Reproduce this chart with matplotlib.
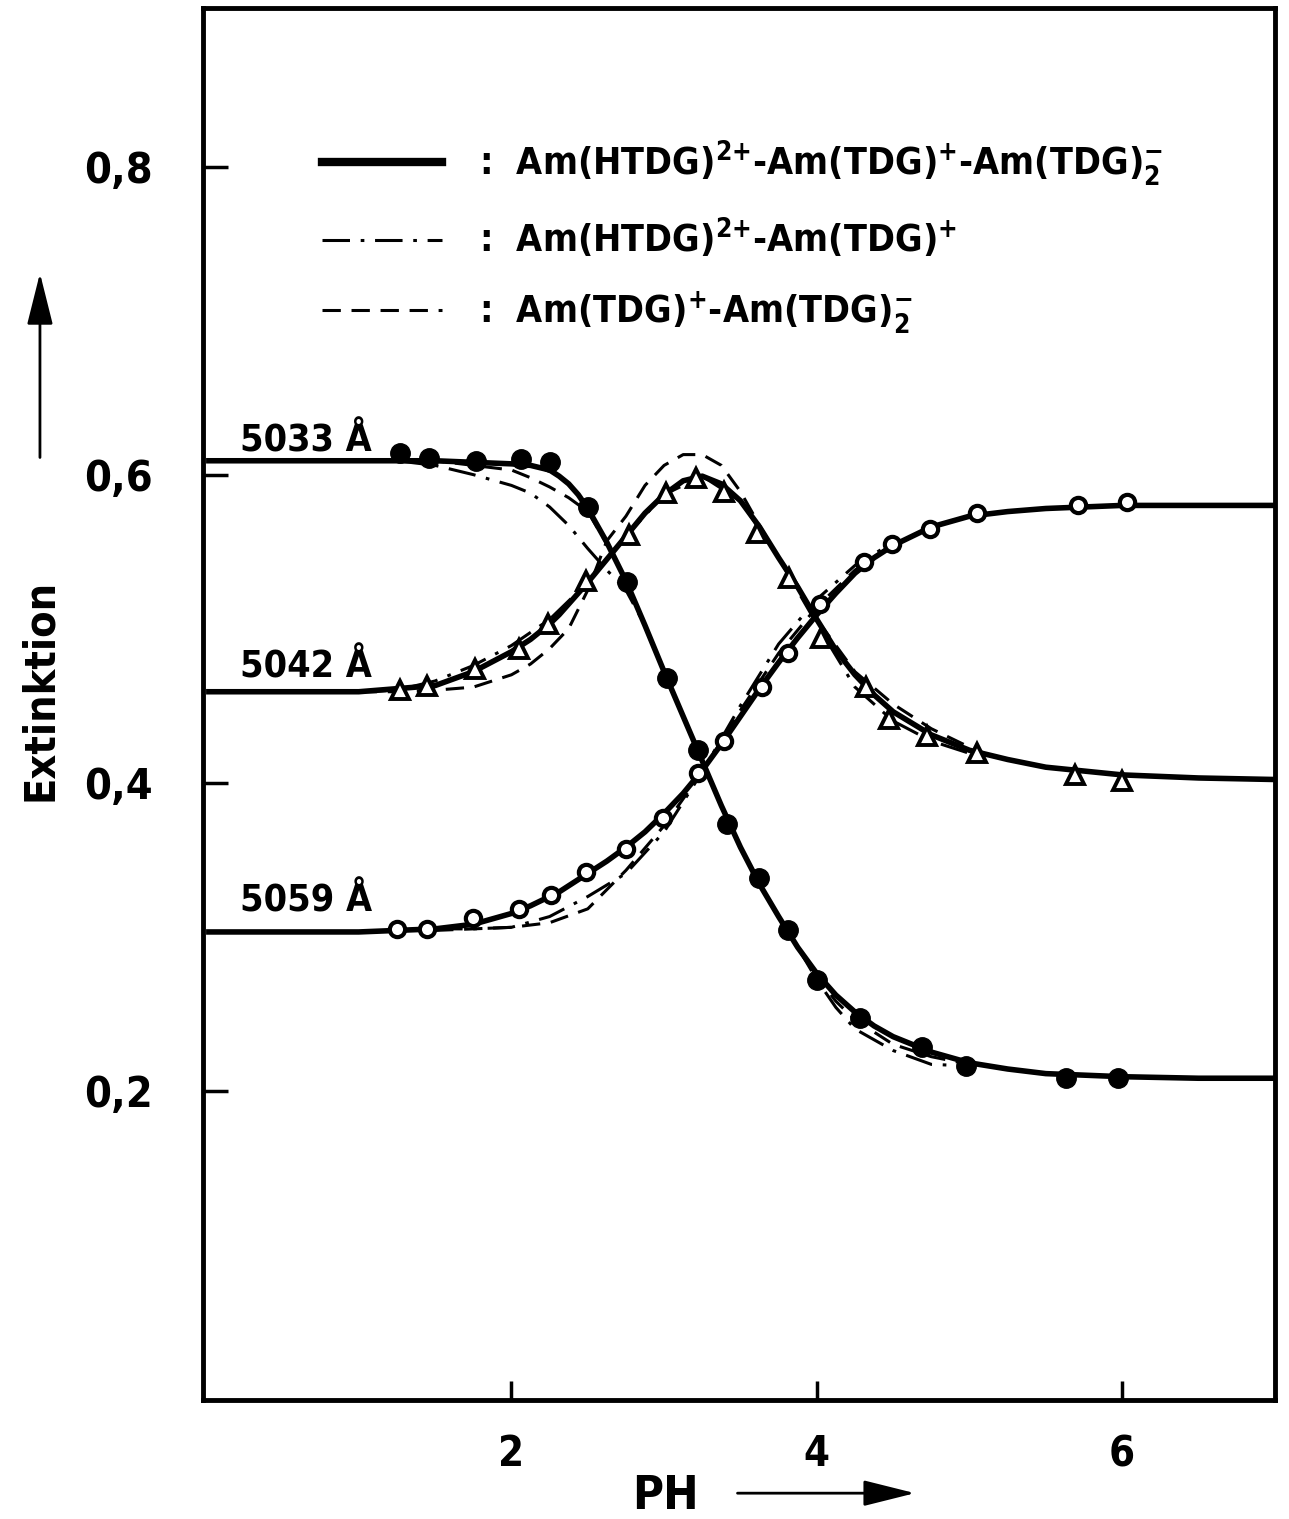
import matplotlib
matplotlib.use('Agg')
import matplotlib.pyplot as plt
from matplotlib.lines import Line2D
from matplotlib.patches import FancyArrowPatch

# measured points (pH, extinction)
ph_5033 = [1.27, 1.46, 1.77, 2.06, 2.25, 2.50, 2.76, 3.02, 3.22, 3.41, 3.62, 3.81, 4.00, 4.28, 4.69, 4.98, 5.63, 5.97]
ext_5033 = [0.614, 0.611, 0.609, 0.610, 0.608, 0.579, 0.530, 0.468, 0.421, 0.373, 0.338, 0.304, 0.272, 0.247, 0.228, 0.216, 0.208, 0.208]

ph_5042 = [1.27, 1.45, 1.76, 2.05, 2.24, 2.49, 2.77, 3.01, 3.21, 3.39, 3.61, 3.82, 4.03, 4.32, 4.47, 4.72, 5.05, 5.69, 6.00]
ext_5042 = [0.460, 0.463, 0.474, 0.487, 0.503, 0.531, 0.561, 0.588, 0.598, 0.589, 0.562, 0.533, 0.494, 0.462, 0.441, 0.430, 0.419, 0.405, 0.401]

ph_5059 = [1.25, 1.45, 1.75, 2.05, 2.26, 2.49, 2.75, 2.99, 3.22, 3.39, 3.64, 3.81, 4.02, 4.31, 4.49, 4.74, 5.05, 5.71, 6.03]
ext_5059 = [0.305, 0.305, 0.312, 0.318, 0.327, 0.342, 0.357, 0.377, 0.406, 0.427, 0.462, 0.484, 0.516, 0.543, 0.555, 0.565, 0.575, 0.580, 0.582]

# fitted curves: Am(HTDG)2+ - Am(TDG)+ - Am(TDG)2- (solid)
ph_fit = [0, 1.0, 1.5, 1.75, 2.0, 2.125, 2.25, 2.3125, 2.375, 2.4375, 2.5, 2.625, 2.75, 2.875, 3.0, 3.125, 3.25,
          3.375, 3.5, 3.625, 3.75, 3.875, 4.0, 4.125, 4.25, 4.375, 4.5, 4.75, 5.0, 5.25, 5.5, 6.0, 6.5, 7.0]
fit_5033 = [0.609, 0.609, 0.609, 0.608, 0.607, 0.606, 0.603, 0.599, 0.594, 0.587, 0.578, 0.556, 0.531, 0.502, 0.472, 0.443, 0.414,
            0.385, 0.358, 0.334, 0.313, 0.293, 0.276, 0.262, 0.251, 0.242, 0.235, 0.225, 0.218, 0.214, 0.211, 0.209, 0.208, 0.208]
fit_5042 = [0.459, 0.459, 0.463, 0.472, 0.485, 0.493, 0.503, 0.509, 0.516, 0.523, 0.530, 0.545, 0.560, 0.575, 0.587, 0.596, 0.599,
            0.594, 0.583, 0.566, 0.546, 0.527, 0.506, 0.486, 0.470, 0.457, 0.446, 0.431, 0.421, 0.415, 0.410, 0.405, 0.403, 0.402]
fit_5059 = [0.303, 0.303, 0.305, 0.308, 0.315, 0.320, 0.326, 0.329, 0.333, 0.337, 0.341, 0.349, 0.358, 0.368, 0.380, 0.393, 0.408,
            0.425, 0.443, 0.461, 0.478, 0.494, 0.509, 0.523, 0.536, 0.546, 0.554, 0.566, 0.573, 0.576, 0.578, 0.580, 0.580, 0.580]

# Am(HTDG)2+ - Am(TDG)+ (dash-dot)
ph_dd_5033 = [1.25, 1.5, 1.75, 2.0, 2.125, 2.25, 2.375, 2.5, 2.625, 2.75, 2.875]
dd_5033 = [0.609, 0.606, 0.600, 0.593, 0.588, 0.579, 0.567, 0.552, 0.538, 0.525, 0.502]
ph_dd_5033b = [3.875, 4.0, 4.125, 4.25, 4.5, 4.75, 5.0]
dd_5033b = [0.293, 0.272, 0.254, 0.240, 0.226, 0.217, 0.216]
ph_dd_5042 = [1.0, 1.25, 1.5, 1.75, 2.0, 2.25, 2.5, 2.75, 3.0, 3.25, 3.5, 3.75, 4.0, 4.25, 4.5, 4.75, 5.0]
dd_5042 = [0.459, 0.460, 0.466, 0.476, 0.489, 0.506, 0.530, 0.560, 0.587, 0.599, 0.583, 0.546, 0.503, 0.462, 0.440, 0.427, 0.419]
ph_dd_5059 = [1.5, 1.75, 2.0, 2.25, 2.5, 2.75, 3.0, 3.25, 3.5, 3.75, 4.0, 4.25, 4.5]
dd_5059 = [0.305, 0.305, 0.306, 0.313, 0.326, 0.341, 0.368, 0.407, 0.450, 0.490, 0.519, 0.541, 0.556]

# Am(TDG)+ - Am(TDG)2- (dashed)
ph_da_5033 = [1.25, 1.5, 1.75, 2.0, 2.125, 2.25, 2.375, 2.5, 2.625]
da_5033 = [0.609, 0.609, 0.606, 0.603, 0.598, 0.592, 0.585, 0.576, 0.555]
ph_da_5033b = [3.875, 4.0, 4.125, 4.25, 4.5, 4.75, 5.0]
da_5033b = [0.293, 0.274, 0.258, 0.246, 0.230, 0.222, 0.217]
ph_da_5042 = [1.0, 1.25, 1.5, 1.75, 2.0, 2.125, 2.25, 2.375, 2.5, 2.625, 2.75, 2.875, 3.0, 3.125, 3.25,
              3.375, 3.5, 3.625, 3.75, 3.875, 4.0, 4.25, 4.5, 4.75, 5.0]
da_5042 = [0.459, 0.459, 0.460, 0.462, 0.470, 0.477, 0.487, 0.500, 0.525, 0.557, 0.573, 0.593, 0.606, 0.613, 0.613,
           0.606, 0.589, 0.567, 0.546, 0.527, 0.506, 0.472, 0.451, 0.435, 0.423]
ph_da_5059 = [1.5, 1.75, 2.0, 2.25, 2.5, 2.75, 3.0, 3.25, 3.5, 3.75, 4.0, 4.25, 4.5]
da_5059 = [0.304, 0.305, 0.306, 0.309, 0.318, 0.343, 0.372, 0.407, 0.447, 0.484, 0.514, 0.538, 0.555]

wl_labels = ['5033 Å', '5042 Å', '5059 Å']
wl_label_pos = [(0.22, 0.615), (0.22, 0.468), (0.22, 0.316)]

legend_labels = [':  Am(HTDG)$^{2{+}}$-Am(TDG)$^{+}$-Am(TDG)$_{2}^{-}$',
                 ':  Am(HTDG)$^{2{+}}$-Am(TDG)$^{+}$',
                 ':  Am(TDG)$^{+}$-Am(TDG)$_{2}^{-}$']

yticks = [0.2, 0.4, 0.6, 0.8]
yticklabels = ['0,2', '0,4', '0,6', '0,8']
xticks = [2, 4, 6]
xticklabels = ['2', '4', '6']

plt.rcParams['font.family'] = ['DejaVu Sans']
plt.rcParams['font.stretch'] = 'condensed'
plt.rcParams['font.weight'] = 'bold'
plt.rcParams['mathtext.default'] = 'regular'
fs = 27

fig = plt.figure(figsize=(12.89, 15.19), dpi=100)
ax = fig.add_axes([0.1575, 0.0783, 0.8315, 0.9164])

ax.set_xlim(-0.02, 7.0)
ax.set_ylim(-0.001, 0.903)

lw_fit = 4.0
lw_alt = 2.2
dashdot = (0, (9, 3.5, 1.2, 3.5))
dashed = (0, (6, 3.5))

# alternative models
for px, py in [(ph_dd_5033, dd_5033), (ph_dd_5033b, dd_5033b), (ph_dd_5042, dd_5042), (ph_dd_5059, dd_5059)]:
    ax.plot(px, py, color='k', lw=lw_alt, ls=dashdot)
for px, py in [(ph_da_5033, da_5033), (ph_da_5033b, da_5033b), (ph_da_5042, da_5042), (ph_da_5059, da_5059)]:
    ax.plot(px, py, color='k', lw=lw_alt, ls=dashed)

# full model
for fy in [fit_5033, fit_5042, fit_5059]:
    ax.plot(ph_fit, fy, color='k', lw=lw_fit, solid_joinstyle='round', solid_capstyle='butt')

# measured points
ax.plot(ph_5033, ext_5033, 'o', color='k', ms=14, zorder=5)
ax.plot(ph_5042, ext_5042, '^', mfc='white', mec='k', mew=2.8, ms=13, zorder=5)
ax.plot(ph_5059, ext_5059, 'o', mfc='white', mec='k', mew=3.0, ms=11, zorder=5)

for txt, (tx, ty) in zip(wl_labels, wl_label_pos):
    ax.text(tx, ty, txt, fontsize=fs, ha='left', va='baseline')

# legend
handles = [Line2D([], [], color='k', lw=6),
           Line2D([], [], color='k', lw=lw_alt, ls=dashdot),
           Line2D([], [], color='k', lw=lw_alt, ls=dashed)]
ax.legend(handles, legend_labels, loc='upper left', bbox_to_anchor=(0.111, 0.906),
          frameon=False, fontsize=fs, handlelength=3.2, handletextpad=1.0,
          labelspacing=0.76, borderpad=0, borderaxespad=0)

# axes styling
for sp in ax.spines.values():
    sp.set_linewidth(3.5)
ax.set_yticks(yticks)
ax.set_yticklabels(yticklabels, fontsize=31)
ax.set_xticks(xticks)
ax.set_xticklabels(xticklabels, fontsize=30)
ax.tick_params(direction='in', length=18, width=2.5, pad=36, axis='y')
ax.tick_params(direction='in', length=14, width=2.5, pad=24, axis='x')

# axis titles with arrows
fig.text(0.031, 0.546, 'Extinktion', rotation=90, fontsize=31, ha='center', va='center')
fig.text(0.516, 0.0145, 'PH', fontsize=34, ha='center', va='center')
fig.patches.append(FancyArrowPatch(
    (0.031, 0.697), (0.031, 0.822), transform=fig.transFigure,
    arrowstyle='-|>,head_length=1.6,head_width=0.4', lw=2, color='k', mutation_scale=20))
fig.patches.append(FancyArrowPatch(
    (0.570, 0.017), (0.712, 0.017), transform=fig.transFigure,
    arrowstyle='-|>,head_length=1.6,head_width=0.4', lw=2, color='k', mutation_scale=20))

plt.savefig('out.png', dpi=100)
